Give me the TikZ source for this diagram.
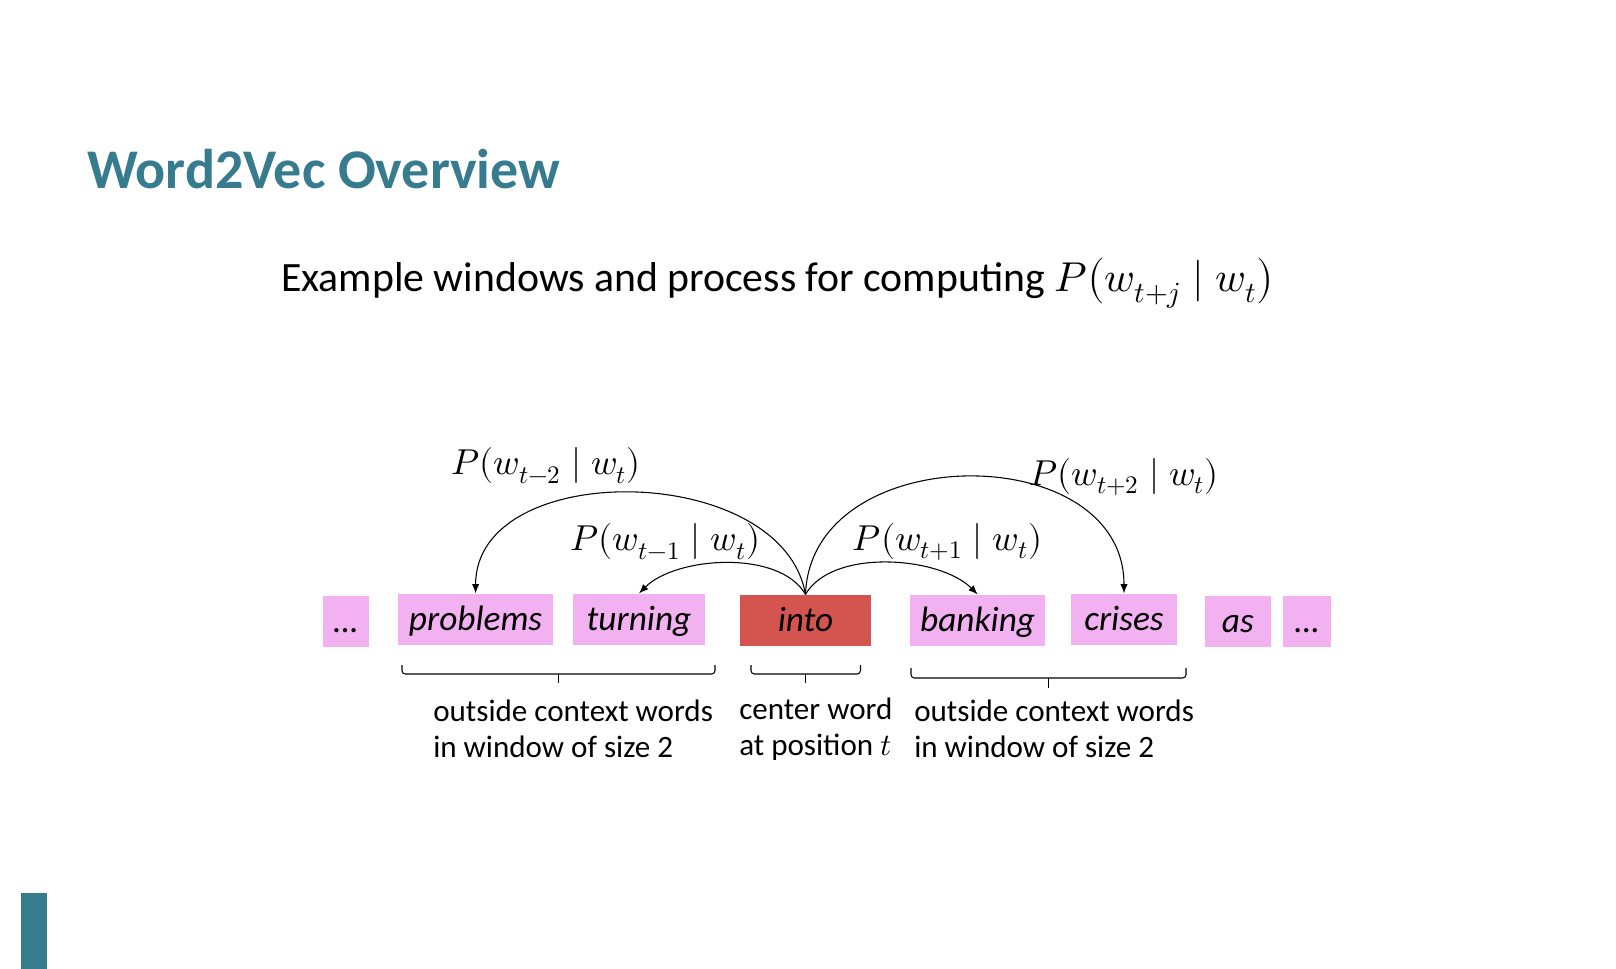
\documentclass[tikz,border=0pt]{standalone}
\usepackage{fontspec}
\usepackage{unicode-math}
\setmainfont{Carlito}
\usetikzlibrary{arrows.meta,positioning}
\definecolor{TitleTeal}{RGB}{55,123,143}
\definecolor{WordPink}{RGB}{242,177,240}
\definecolor{CenterRed}{RGB}{212,85,80}
\tikzset{
  wordbox/.style={fill=WordPink,inner sep=0pt,minimum height=38.6pt,
    text height=21pt,text depth=4pt,font=\fontsize{26.5}{32}\selectfont\itshape},
  centerbox/.style={wordbox,fill=CenterRed},
  probarrow/.style={-{Latex[length=7pt,width=5.5pt]},line width=0.8pt},
  problabel/.style={inner sep=0pt,font=\fontsize{27}{32}\selectfont},
  winbracket/.style={line width=0.8pt,rounded corners=2.5pt},
  bracelabel/.style={inner sep=0pt,align=left,anchor=west,
    font=\fontsize{23.3}{27}\selectfont},
}

\begin{document}
\begin{tikzpicture}[x=0.75pt,y=-0.75pt]
  \useasboundingbox (0,0) rectangle (1616,969);
  % heading
  \node[anchor=base west,inner sep=0pt,text=TitleTeal,
    font=\fontsize{42}{50}\selectfont\bfseries] (title) at (87,189) {Word2Vec Overview};
  \node[anchor=base west,inner sep=0pt,font=\fontsize{31.3}{37}\selectfont] (subtitle)
    at (281,292) {Example windows and process for computing $P\bigl(w_{t+j}\mid w_t\bigr)$};
  \fill[TitleTeal] (20.6,892.5) rectangle (47.4,969);

  % the sentence
  \node[wordbox,minimum width=34.8pt] (dotsL) at (345.8,621.5) {…};
  \node[wordbox,minimum width=116.7pt] (problems) at (475.6,619.4) {problems};
  \node[wordbox,minimum width=99pt] (turning) at (639,619.4) {turning};
  \node[centerbox,minimum width=98.2pt] (into) at (805.5,620.4) {into};
  \node[wordbox,minimum width=101.2pt] (banking) at (977.6,620.4) {banking};
  \node[wordbox,minimum width=79.5pt] (crises) at (1124,619.4) {crises};
  \node[wordbox,minimum width=49.4pt] (as) at (1237.8,621.5) {as};
  \node[wordbox,minimum width=36.4pt] (dotsR) at (1307,621.5) {…};

  % probabilities
  \draw[probarrow] (into.north) to[out=100,in=90,looseness=1.05] (problems.north);
  \draw[probarrow] (into.north) to[out=120,in=45,looseness=0.8] (turning.north);
  \draw[probarrow] (into.north) to[out=60,in=135,looseness=0.8] (banking.north);
  \draw[probarrow] (into.north) to[out=88,in=90,looseness=1.25] (crises.north);
  \node[problabel] (pm2) at (546,466) {$P(w_{t-2}\mid w_t)$};
  \node[problabel] (pm1) at (665.5,542) {$P(w_{t-1}\mid w_t)$};
  \node[problabel] (pp1) at (947.6,542) {$P(w_{t+1}\mid w_t)$};
  \node[problabel] (pp2) at (1124,477) {$P(w_{t+2}\mid w_t)$};

  % windows
  \draw[winbracket] (402,665) -- (402,674) -- (715,674) -- (715,665);
  \draw[line width=0.8pt] (558.5,674) -- (558.5,683);
  \draw[winbracket] (751,665) -- (751,674) -- (860.5,674) -- (860.5,665);
  \draw[line width=0.8pt] (805.8,674) -- (805.8,683);
  \draw[winbracket] (911,668) -- (911,678) -- (1186,678) -- (1186,668);
  \draw[line width=0.8pt] (1048.5,678) -- (1048.5,688);
  \node[bracelabel] (leftctx) at (433,729) {outside context words\\in window of size 2};
  \node[bracelabel] (centerlbl) at (739,729) {center word\\at position $t$};
  \node[bracelabel] (rightctx) at (914,729) {outside context words\\in window of size 2};
\end{tikzpicture}
\end{document}
